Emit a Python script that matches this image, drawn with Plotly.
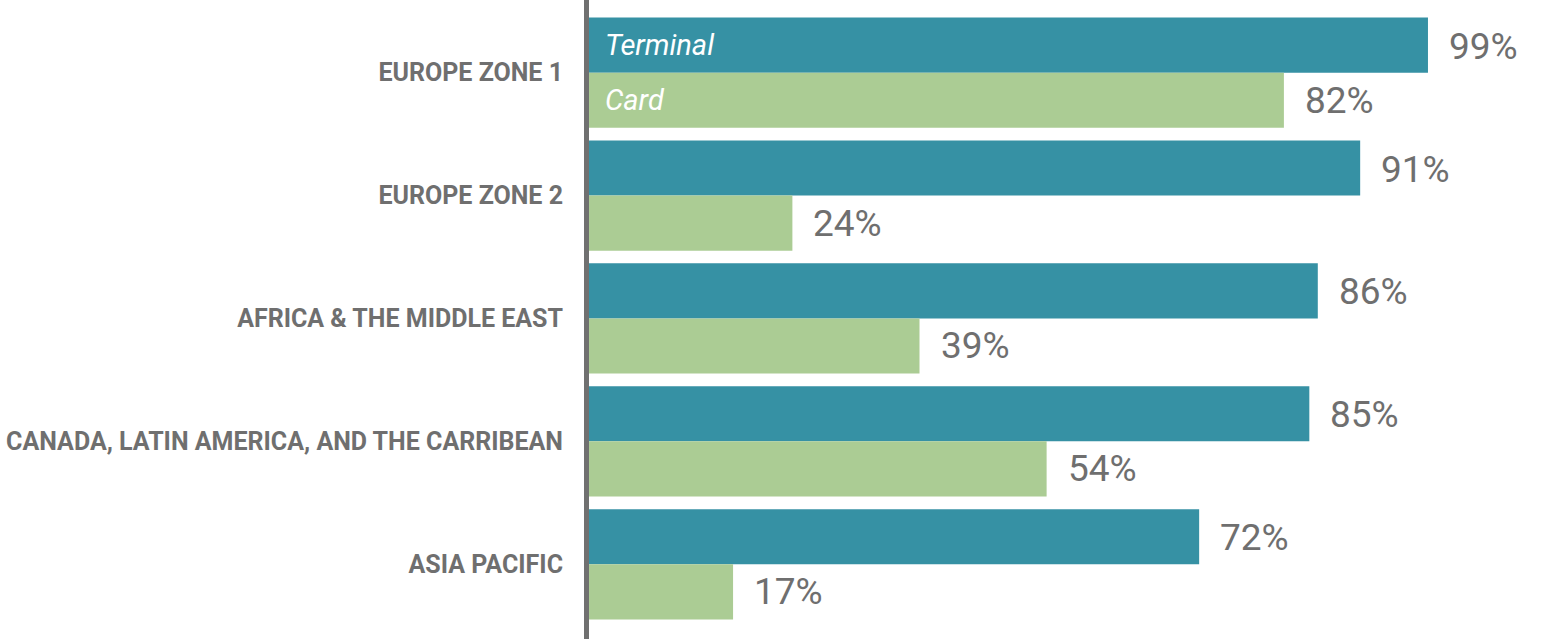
import plotly.graph_objects as go

regions = ["EUROPE ZONE 1", "EUROPE ZONE 2", "AFRICA & THE MIDDLE EAST",
           "CANADA, LATIN AMERICA, AND THE CARRIBEAN", "ASIA PACIFIC"]
terminal = [99, 91, 86, 85, 72]
card = [82, 24, 39, 54, 17]

TEAL = "#3691a4"
GREEN = "#abcc94"
GRAY = "#6f6f6f"

fig = go.Figure()
fig.add_trace(go.Bar(name="Terminal", y=regions, x=terminal, orientation="h",
                     marker=dict(color=TEAL, line=dict(width=0))))
fig.add_trace(go.Bar(name="Card", y=regions, x=card, orientation="h",
                     marker=dict(color=GREEN, line=dict(width=0))))

# value labels to the right of each bar
for vals, shift in [(terminal, 26.5), (card, -27.5)]:
    for r, v in zip(regions, vals):
        fig.add_annotation(x=v, y=r, text=f"{v}%", showarrow=False,
                           xanchor="left", xshift=19, yshift=shift,
                           font=dict(family="Roboto", size=37, color=GRAY))

# series names inside the first group's bars
for name, shift in [("Terminal", 27.5), ("Card", -27.5)]:
    fig.add_annotation(x=0, y=regions[0], text=f"<i>{name}</i>", showarrow=False,
                       xanchor="left", xshift=14, yshift=shift,
                       font=dict(family="Roboto", size=29, color="white"))

fig.update_layout(
    width=1550, height=639,
    margin=dict(l=589, r=0, t=0, b=0),
    paper_bgcolor="white", plot_bgcolor="white",
    barmode="group", bargap=0.103, bargroupgap=0,
    showlegend=False,
    font=dict(family="Roboto", color=GRAY),
)
fig.update_xaxes(range=[0, 113.4], visible=False, fixedrange=True)
fig.update_yaxes(range=[4.608, -0.591], showgrid=False, zeroline=False,
                 showline=True, linecolor="#707070", linewidth=5,
                 ticks="", ticklabelstandoff=16,
                 tickfont=dict(family="Roboto", size=25, color=GRAY, weight="bold"),
                 fixedrange=True)

# drop the default 8px page margin so the figure fills the window
fig.write_html("out.html", config={"displayModeBar": False},
               post_script="document.body.style.margin='0px';")
